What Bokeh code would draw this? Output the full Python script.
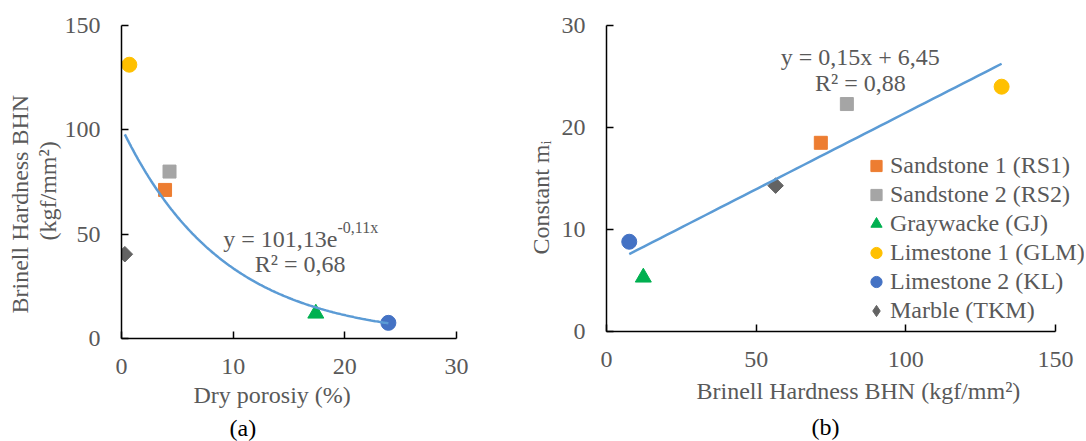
import numpy as np
from bokeh.plotting import figure
from bokeh.layouts import row
from bokeh.models import FixedTicker, Label, Range1d, Legend, LegendItem, Title
from bokeh.embed import file_html
from bokeh.resources import INLINE

# ---------------- data ----------------
names = ["Sandstone 1 (RS1)", "Sandstone 2 (RS2)", "Graywacke (GJ)",
         "Limestone 1 (GLM)", "Limestone 2 (KL)", "Marble (TKM)"]
colors = ["#ED7D31", "#A5A5A5", "#00B050", "#FFC000", "#4472C4", "#636363"]
markers = ["square", "square", "triangle", "circle", "circle", "diamond"]

# panel (a): dry porosity (%) vs Brinell hardness
porosity = [3.9, 4.3, 17.4, 0.7, 23.9, 0.3]
bhn_a = [71.2, 80.0, 12.0, 131.2, 7.5, 40.4]
# panel (b): Brinell hardness vs constant m_i
bhn_b = [71.6, 80.3, 12.3, 132.0, 7.6, 56.5]
mi = [18.5, 22.3, 5.3, 24.0, 8.8, 14.3]

fit_a = (101.13, -0.11)   # y = a * exp(b x)
fit_b = (0.15, 6.45)      # y = m x + c

xticks_a = [0, 10, 20, 30]
yticks_a = [0, 50, 100, 150]
xticks_b = [0, 50, 100, 150]
yticks_b = [0, 10, 20, 30]

# ---------------- styles ----------------
FONT = "Liberation Serif"
TXT = "#595959"
FS = "24px"
TREND = "#5B9BD5"


def marker_args(m):
    # the diamond is drawn as a square rotated by 45 degrees
    if m == "diamond":
        return dict(marker="square", size=11, angle=np.pi / 4)
    return dict(marker=m, size={"square": 13, "triangle": 16, "circle": 15}[m], angle=0)


def style_axes(p, xt, yt):
    p.xaxis.ticker = FixedTicker(ticks=xt)
    p.yaxis.ticker = FixedTicker(ticks=yt)
    for ax in (p.xaxis, p.yaxis):
        ax.major_tick_in = 7
        ax.major_tick_out = 0
        ax.minor_tick_line_color = None
        ax.axis_line_color = "black"
        ax.axis_line_width = 1.5
        ax.major_tick_line_color = "black"
        ax.major_tick_line_width = 1.5
        ax.major_label_text_font = FONT
        ax.major_label_text_font_size = FS
        ax.major_label_text_color = TXT
    p.xaxis.major_label_standoff = 20
    p.yaxis.major_label_standoff = 21
    p.xgrid.grid_line_color = None
    p.ygrid.grid_line_color = None
    p.outline_line_color = None
    p.background_fill_color = "white"
    p.border_fill_color = "white"


def label(p, text, x, y, align="center", size=FS):
    p.add_layout(Label(x=x, y=y, text=text, text_font=FONT, text_font_size=size,
                       text_color=TXT, text_align=align, text_baseline="alphabetic"))


def side_title(p, text, side, offset, color=TXT, standoff=0):
    p.add_layout(Title(text=text, align="left", offset=offset, standoff=standoff,
                       vertical_align="middle", text_font=FONT, text_font_size=FS,
                       text_font_style="normal", text_color=color), side)


# ---------------- panel (a) ----------------
pa = figure(frame_width=335, frame_height=313, min_border_left=121, min_border_right=44,
            min_border_top=25, min_border_bottom=102,
            x_range=Range1d(0, 30), y_range=Range1d(0, 150),
            output_backend="svg", toolbar_location=None)
style_axes(pa, xticks_a, yticks_a)

for i in range(len(names)):
    pa.scatter([porosity[i]], [bhn_a[i]], fill_color=colors[i], line_color=colors[i],
               **marker_args(markers[i]))

xa = np.linspace(min(porosity), max(porosity), 200)
pa.line(xa, fit_a[0] * np.exp(fit_a[1] * xa), line_color=TREND, line_width=2.5)

label(pa, "y = 101,13e", 19.34, 47.8, align="right")
label(pa, "-0,11x", 19.34, 53.2, align="left", size="16px")
label(pa, "R² = 0,68", 16.0, 35.9)

side_title(pa, "Dry porosiy (%)", "below", 72, standoff=9)
side_title(pa, "(a)", "below", 108, color="black", standoff=0)
side_title(pa, "(kgf/mm²)", "left", 98)
side_title(pa, "Brinell Hardness BHN", "left", 25)

# ---------------- panel (b) ----------------
# the frame reaches past x = 150 so that the legend text has room; the axis stops at 150
xmax_b = 150 * 478 / 449
pb = figure(frame_width=478, frame_height=306, min_border_left=106, min_border_right=0,
            min_border_top=24, min_border_bottom=110,
            x_range=Range1d(0, xmax_b), y_range=Range1d(0, 30),
            output_backend="svg", toolbar_location=None)
style_axes(pb, xticks_b, yticks_b)
pb.xaxis.bounds = (0, 150)

items = []
for i in range(len(names)):
    r = pb.scatter([bhn_b[i]], [mi[i]], fill_color=colors[i], line_color=colors[i],
                   **marker_args(markers[i]))
    if markers[i] == "diamond":
        # hidden legend proxy with a diamond outline (legend glyphs are not rotated)
        r = pb.scatter([bhn_b[i]], [mi[i]], marker="diamond", fill_color=colors[i],
                       line_color=colors[i], visible=False)
    items.append(LegendItem(label=names[i], renderers=[r]))

xb = np.linspace(min(bhn_b), max(bhn_b), 50)
pb.line(xb, fit_b[0] * xb + fit_b[1], line_color=TREND, line_width=2.5)

legend = Legend(items=items, location=(256, 6), padding=0, margin=0, spacing=0,
                glyph_width=28, glyph_height=29, label_height=20, label_standoff=0,
                label_text_font=FONT, label_text_font_size=FS, label_text_color=TXT,
                border_line_alpha=0, background_fill_alpha=0, inactive_fill_alpha=0)
pb.add_layout(legend)

label(pb, "y = 0,15x + 6,45", 84.8, 26.96)
label(pb, "R² = 0,88", 84.8, 24.34)

side_title(pb, "Brinell Hardness BHN (kgf/mm²)", "below", 90, standoff=15)
side_title(pb, "(b)", "below", 205, color="black", standoff=0)
side_title(pb, "Constant mᵢ", "left", 77, standoff=7)

layout = row(pa, pb, spacing=0)
open("out.html", "w").write(file_html(layout, INLINE))
